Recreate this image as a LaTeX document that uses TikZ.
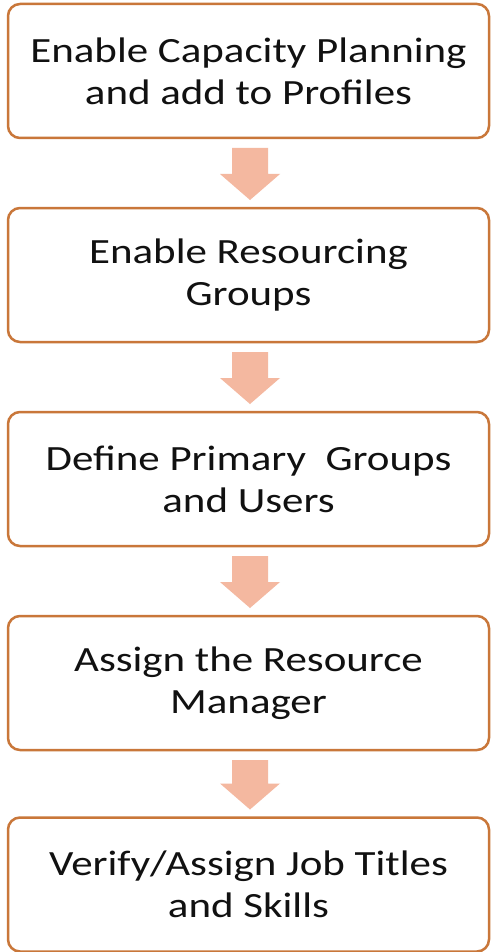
\documentclass[tikz,border=0pt]{standalone}
\usepackage{fontspec}
\setmainfont{Carlito}
\newfontfamily\widefont[FakeStretch=1.21]{Carlito}
\usetikzlibrary{calc}
\definecolor{boxorange}{HTML}{C9773A}
\definecolor{arrowfill}{HTML}{F4B8A0}
\definecolor{textdark}{HTML}{111111}
\begin{document}
\begin{tikzpicture}[x=1pt,y=-1pt]
\tikzset{
  stepbox/.style={draw=boxorange, line width=2.5pt, rounded corners=12pt, fill=white,
    minimum width=481pt, minimum height=134pt, align=center, inner sep=0pt, outer sep=0pt,
    font=\widefont\fontsize{35.5}{42}\selectfont, text=textdark},
  flowarrow/.style={fill=arrowfill, draw=none}
}
\fill[white] (0,0) rectangle (492,952);
\useasboundingbox (0,0) rectangle (492,952);
\node[stepbox] (b1) at (248.5,71) {Enable Capacity Planning\\and add to Profiles};
\node[stepbox] (b2) at (248.5,275) {Enable Resourcing\\Groups};
\node[stepbox] (b3) at (248.5,479) {Define Primary~ Groups\\and Users};
\node[stepbox] (b4) at (248.5,683) {Assign the Resource\\Manager};
\node[stepbox] (b5) at (248.5,884.5) {Verify/Assign Job Titles\\and Skills};
\foreach \a/\b in {b1/b2,b2/b3,b3/b4,b4/b5}{
  \fill[flowarrow] ($(\a.south)+(-16.5,10)$) -- ($(\a.south)+(19.5,10)$)
    -- ($(\b.north)+(19.5,-34)$) -- ($(\b.north)+(31.5,-34)$)
    -- ($(\b.north)+(1.5,-8)$) -- ($(\b.north)+(-28.5,-34)$)
    -- ($(\b.north)+(-16.5,-34)$) -- cycle;
}
\end{tikzpicture}
\end{document}
